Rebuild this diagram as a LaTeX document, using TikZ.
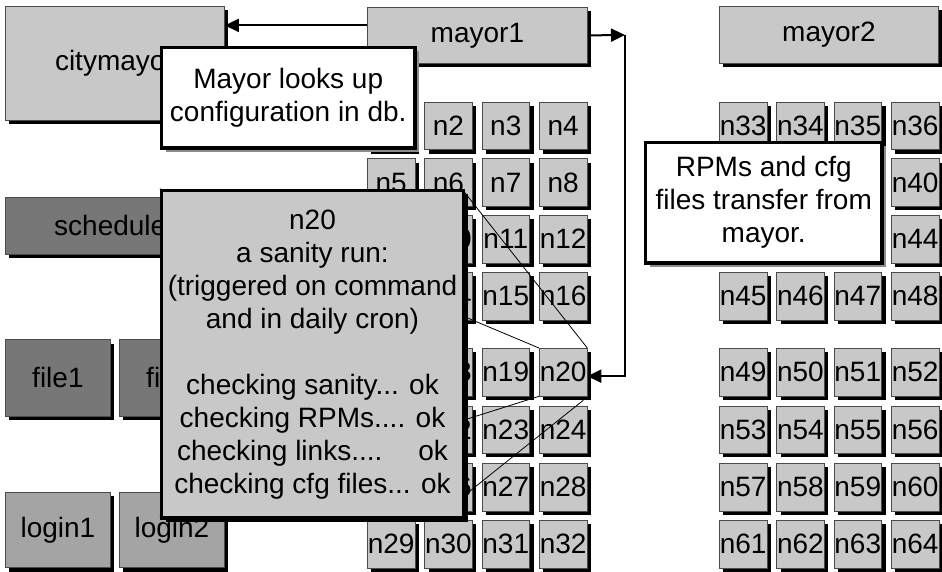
\documentclass[tikz,border=0pt]{standalone}
\usepackage{fontspec}
\setmainfont{Liberation Sans}
\usetikzlibrary{arrows.meta,shadows}

\definecolor{boxgray}{HTML}{C8C8C8}
\definecolor{darkbox}{HTML}{777777}
\definecolor{midbox}{HTML}{A4A4A4}
\definecolor{edgegray}{HTML}{4A4A4A}
\definecolor{notegray}{HTML}{8C8C8C}

\begin{document}
\begin{tikzpicture}[x=1pt,y=-1pt,
  font=\fontsize{28}{33}\selectfont,
  base/.style={draw=edgegray, line width=0.8pt, inner sep=0pt, anchor=north west,
    drop shadow={shadow xshift=4pt, shadow yshift=-4pt, fill=black, opacity=1}},
  cell/.style={base, fill=boxgray, minimum width=47.5pt, minimum height=47.5pt},
  hostbox/.style={base, fill=boxgray},
  darkhost/.style={base, fill=darkbox},
  midhost/.style={base, fill=midbox},
  note/.style={draw=black, line width=3.5pt, fill=white, inner sep=0pt, anchor=north west,
    align=center, drop shadow={shadow xshift=4pt, shadow yshift=-4pt, fill=notegray, opacity=1}},
  zoombox/.style={draw=black, line width=3.5pt, fill=boxgray, inner sep=0pt, anchor=north west,
    align=center, drop shadow={shadow xshift=4pt, shadow yshift=-4pt, fill=black, opacity=1}},
  arr/.style={line width=2pt, -{Triangle[length=14pt,width=13pt]}},
  zoomline/.style={line width=0.8pt, black}]

\useasboundingbox (0,0) rectangle (942,572);

% compute nodes of the two clusters
\foreach \r/\y in {0/102,1/158.5,2/215,3/272,4/348,5/405.5,6/463,7/520}{
  \foreach \c/\x/\xx in {0/367/719,1/424.3/776.3,2/481.6/833.6,3/539/891}{
    \pgfmathtruncatemacro\k{\r*4+\c+1}
    \pgfmathtruncatemacro\kk{\r*4+\c+33}
    \node[cell] (n\k) at (\x,\y) {n\k};
    \node[cell] (n\kk) at (\xx,\y) {n\kk};
  }
}

% service hosts
\node[hostbox, minimum width=220pt, minimum height=56pt] (mayor1) at (367,7) {mayor1};
\node[hostbox, minimum width=219pt, minimum height=57pt] (mayor2) at (719,6) {mayor2};
\node[hostbox, minimum width=219pt, minimum height=114pt] (citymayor) at (5,6) {citymayor};
\node[darkhost, minimum width=219pt, minimum height=56.5pt] (scheduler) at (5,197) {scheduler};
\node[darkhost, minimum width=105pt, minimum height=76.5pt] (file1) at (5,339.3) {file1};
\node[darkhost, minimum width=105pt, minimum height=76.5pt] (file2) at (119,339.3) {file2};
\node[midhost, minimum width=105pt, minimum height=75.5pt] (login1) at (5,491.8) {login1};
\node[midhost, minimum width=105pt, minimum height=75.5pt] (login2) at (119,491.8) {login2};

% corners of the magnified view of n20
\coordinate (zoomNW) at (159.75,188.75);
\coordinate (zoomNE) at (461.75,188.75);
\coordinate (zoomSW) at (159.75,516.25);
\coordinate (zoomS)  at (440,515);

\draw[zoomline] (n20.north west) -- (zoomNW);
\draw[zoomline] (n20.north east) -- (zoomNE);
\draw[zoomline] (n20.south west) -- (zoomSW);
\draw[zoomline] ([shift={(-4pt,-4pt)}]n20.south east) -- (zoomS);

% magnified view of the sanity run on n20
\node[zoombox, minimum width=302pt, minimum height=327.5pt] (sanity) at (zoomNW)
  {n20\\a sanity run:\\(triggered on command\\and in daily cron)\\[33pt]
   checking sanity... ok\\checking RPMs.... ok\\checking links....\hspace{36pt}ok\\checking cfg files... ok};

% explanatory notes
\node[note, minimum width=253.5pt, minimum height=100.5pt] (lookup) at (159.75,45.75)
  {Mayor looks up\\configuration in db.};
\node[note, minimum width=236.5pt, minimum height=120.5pt] (transfer) at (643.75,140.75)
  {RPMs and cfg\\files transfer from\\mayor.};

% data flow
\coordinate (dbrow) at ([yshift=10pt]mayor1.west);
\draw[arr] (dbrow) -- (dbrow -| citymayor.east);
\coordinate (bend) at (625,35);
\draw[arr] (mayor1.east) -- (bend);
\draw[arr] (bend) |- ([yshift=-4pt]n20.east);

\end{tikzpicture}
\end{document}
